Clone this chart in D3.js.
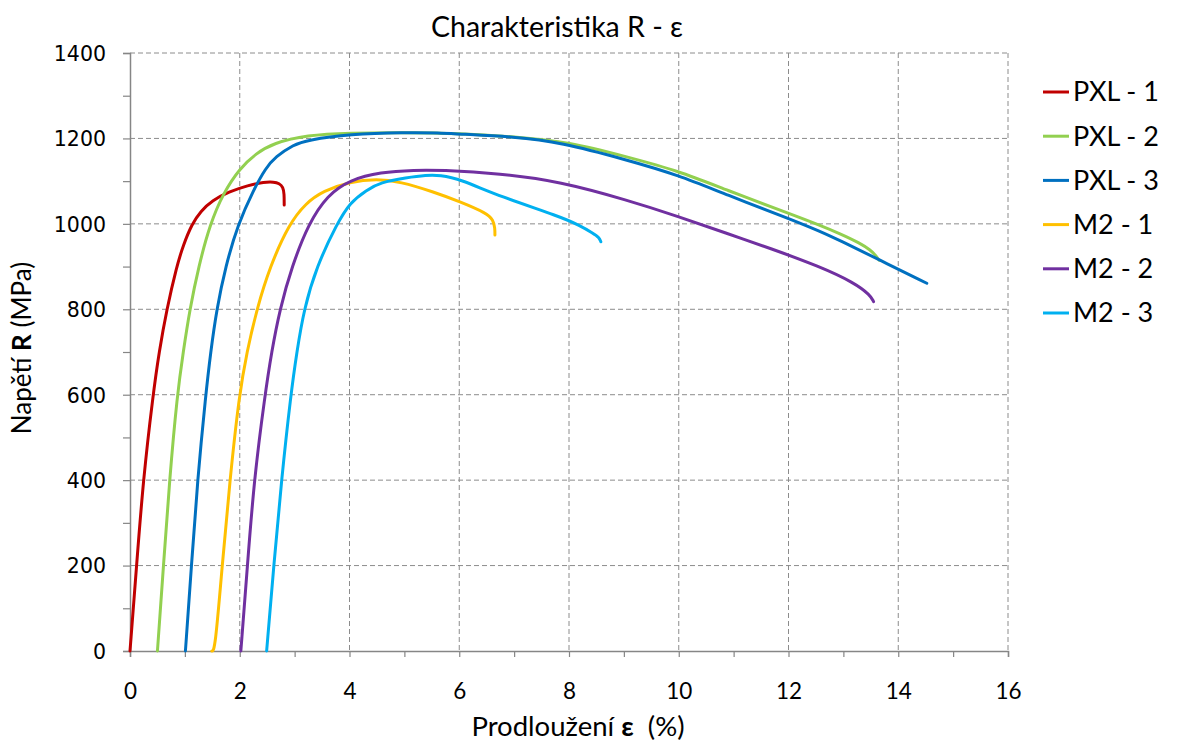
<!DOCTYPE html>
<html>
<head>
<meta charset="utf-8">
<script src="https://cdn.jsdelivr.net/npm/d3@7"></script>
<style>
  html, body { margin: 0; padding: 0; background: #fff; }
  svg { display: block; }
  text { fill: #000; }
</style>
</head>
<body>
<svg id="chart" width="1178" height="745"></svg>
<script>
// Tensile test curves: strain ε (%) vs. stress R (MPa)
const pxl1 = [[0,0],[0.12,200],[0.24,400],[0.42,600],[0.53,700],[0.67,800],[0.85,900],[0.97,950],[1.13,1000],[1.29,1030],[1.5,1055],[1.8,1075],[2.15,1090],[2.45,1098],[2.62,1098],[2.72,1095],[2.79,1086],[2.81,1070],[2.81,1044]];
const pxl2 = [[0.50,0],[0.61,200],[0.72,400],[0.86,600],[0.97,700],[1.09,800],[1.25,900],[1.46,1000],[1.70,1072],[2.0,1130],[2.3,1165],[2.61,1189],[3.22,1208],[4.0,1213],[5.0,1214],[6.0,1212],[7.0,1204],[8.0,1192],[9.05,1157],[10,1124],[10.87,1079],[12,1025],[12.57,997],[12.94,977],[13.3,955],[13.49,939],[13.6,925],[13.65,915]];
const pxl3 = [[1.01,0],[1.12,200],[1.23,400],[1.38,600],[1.47,700],[1.58,800],[1.74,900],[1.97,1000],[2.25,1079],[2.47,1130],[2.65,1157],[2.98,1185],[3.22,1196],[4.01,1210],[5.0,1214],[5.65,1213],[6.01,1210],[7.0,1204],[7.84,1191],[9.05,1150],[10,1114],[10.87,1068],[12,1013],[12.57,983],[12.94,961],[13.65,916],[14.52,861]];
const m21 = [[1.49,0],[1.55,0],[1.68,200],[1.82,400],[1.99,600],[2.13,700],[2.31,800],[2.55,900],[2.9,1000],[3.2,1048],[3.52,1077],[4.01,1099],[4.5,1105],[4.92,1099],[5.53,1075],[6.01,1052],[6.5,1025],[6.62,1009],[6.65,990],[6.65,974]];
const m22 = [[2.02,0],[2.14,200],[2.26,400],[2.46,600],[2.58,700],[2.73,800],[2.95,900],[3.25,1000],[3.6,1068],[4.01,1103],[4.56,1121],[5.2,1126],[5.65,1126],[6.74,1118],[7.84,1099],[9.05,1056],[10,1017],[10.87,978],[11.66,943],[12.57,900],[13.2,862],[13.49,833],[13.55,818]];
const m23 = [[2.49,0],[2.62,200],[2.76,400],[2.93,600],[3.04,700],[3.17,800],[3.4,900],[3.77,1000],[4.01,1050],[4.31,1079],[4.56,1097],[5.04,1108],[5.4,1114],[5.65,1114],[6.01,1105],[6.74,1064],[7.84,1017],[8.2,996],[8.44,978],[8.55,968],[8.58,958]];

const seriesNames = ["PXL - 1", "PXL - 2", "PXL - 3", "M2 - 1", "M2 - 2", "M2 - 3"];
const seriesData = [pxl1, pxl2, pxl3, m21, m22, m23];
const seriesColors = ["#C00000", "#92D050", "#0070C0", "#FFC000", "#7030A0", "#00B0F0"];

const xTicks = [0, 2, 4, 6, 8, 10, 12, 14, 16];
const yTicks = [0, 200, 400, 600, 800, 1000, 1200, 1400];

const svg = d3.select("#chart");
const plot = { left: 130, right: 1008, top: 53, bottom: 651 };

const x = d3.scaleLinear().domain([0, 16]).range([plot.left, plot.right]);
const y = d3.scaleLinear().domain([0, 1400]).range([plot.bottom, plot.top]);

const gridColor = "#8c8c8c";
const axisColor = "#868686";
const labelFont = "Lato, 'Open Sans', sans-serif";

// dashed gridlines
const grid = svg.append("g");
grid.selectAll("line.h").data(yTicks.filter(d => d > 0)).join("line")
  .attr("x1", plot.left).attr("x2", plot.right)
  .attr("y1", d => y(d)).attr("y2", d => y(d))
  .attr("stroke", gridColor).attr("stroke-width", 1).attr("stroke-dasharray", "5,3");
grid.selectAll("line.v").data(xTicks.filter(d => d > 0)).join("line")
  .attr("x1", d => x(d)).attr("x2", d => x(d))
  .attr("y1", plot.top).attr("y2", plot.bottom)
  .attr("stroke", gridColor).attr("stroke-width", 1).attr("stroke-dasharray", "5,3");

// x axis with a tick at every whole percent
const xAxis = d3.axisBottom(x).tickValues(d3.range(0, 17, 1)).tickSize(6)
  .tickFormat(d => (d % 2 === 0 ? d : ""));
const gx = svg.append("g").attr("transform", `translate(0,${plot.bottom})`).call(xAxis);
gx.select(".domain").attr("stroke", axisColor).attr("stroke-width", 1.5);
gx.selectAll(".tick line").attr("stroke", axisColor).attr("stroke-width", 1.2);
gx.selectAll(".tick text").attr("font-family", labelFont).attr("font-size", 22.5)
  .attr("dy", 0).attr("y", 48).attr("fill", "#000");

// y axis with a tick at every 100 MPa
const yAxis = d3.axisLeft(y).tickValues(d3.range(0, 1401, 100)).tickSize(7)
  .tickFormat(d => (d % 200 === 0 ? d : ""));
const gy = svg.append("g").attr("transform", `translate(${plot.left},0)`).call(yAxis);
gy.select(".domain").attr("stroke", axisColor).attr("stroke-width", 1.5);
gy.selectAll(".tick line").attr("stroke", axisColor).attr("stroke-width", 1.2);
gy.selectAll(".tick text").attr("font-family", "'DejaVu Sans', Verdana, sans-serif").attr("font-size", 20.5)
  .attr("x", -24).attr("dy", "0.36em").attr("fill", "#000");

// curves
const line = d3.line().x(d => x(d[0])).y(d => y(d[1])).curve(d3.curveBasis);
svg.append("g").selectAll("path").data(seriesData).join("path")
  .attr("d", line)
  .attr("fill", "none")
  .attr("stroke", (d, i) => seriesColors[i])
  .attr("stroke-width", 3)
  .attr("stroke-linejoin", "round")
  .attr("stroke-linecap", "round");

// title
svg.append("text").attr("x", 557).attr("y", 37).attr("text-anchor", "middle")
  .attr("font-family", labelFont).attr("font-size", 28.5)
  .text("Charakteristika R - ε");

// x axis title
const xt = svg.append("text").attr("x", 578).attr("y", 736).attr("text-anchor", "middle")
  .attr("font-family", labelFont).attr("font-size", 27.5).attr("xml:space", "preserve");
xt.append("tspan").text("Prodloužení ");
xt.append("tspan").attr("font-weight", "bold").text("ε");
xt.append("tspan").text("  (%)");

// y axis title
const yt = svg.append("text").attr("transform", "translate(31,348) rotate(-90)")
  .attr("text-anchor", "middle").attr("font-family", labelFont).attr("font-size", 26);
yt.append("tspan").text("Napětí ");
yt.append("tspan").attr("font-weight", "bold").text("R");
yt.append("tspan").text(" (MPa)");

// legend
const legend = svg.append("g").selectAll("g").data(seriesNames).join("g")
  .attr("transform", (d, i) => `translate(1043,${92 + i * 44.2})`);
legend.append("line").attr("x1", 0).attr("x2", 26).attr("y1", 0).attr("y2", 0)
  .attr("stroke", (d, i) => seriesColors[i]).attr("stroke-width", 3);
legend.append("text").attr("x", 30).attr("y", 0).attr("dy", "0.35em")
  .attr("font-family", labelFont).attr("font-size", 27)
  .text(d => d);
</script>
</body>
</html>
